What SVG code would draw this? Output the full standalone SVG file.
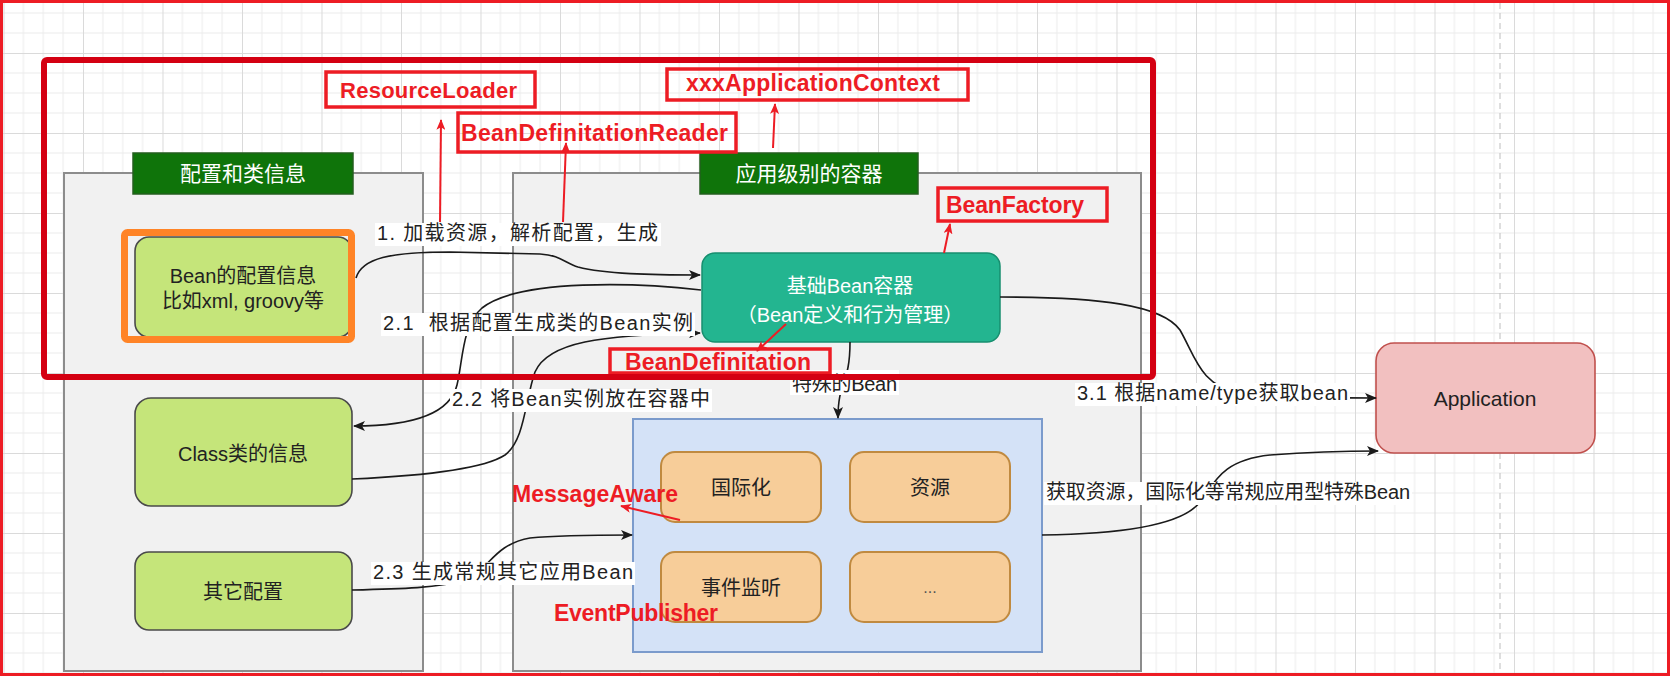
<svg xmlns="http://www.w3.org/2000/svg" width="1670" height="676" viewBox="0 0 1670 676">
<style>
.t{font-family:"Liberation Sans","Noto Sans CJK SC",sans-serif;fill:#222;}
.w{font-family:"Liberation Sans","Noto Sans CJK SC",sans-serif;fill:#fff;}
.r{font-family:"Liberation Sans","Noto Sans CJK SC",sans-serif;fill:#ed1c24;font-weight:bold;}
.cont{fill:#f1f1f1;stroke:#8c8c8c;stroke-width:2;}
.hdr{fill:#0f740a;stroke:#245f1f;stroke-width:1.5;}
.gn{fill:#c5e57a;stroke:#4a4a4a;stroke-width:1.6;}
.on{fill:#f7cd99;stroke:#c08a40;stroke-width:2;}
.rbox{fill:none;stroke:#ed1c24;stroke-width:3.5;}
.edge{fill:none;stroke:#1a1a1a;stroke-width:1.6;}
.redge{fill:none;stroke:#ed1c24;stroke-width:2;}
.lbg{fill:#ffffff;}
</style>
<defs>
<pattern id="grid" width="79.5" height="80" patternUnits="userSpaceOnUse" x="3.5" y="-27">
<path d="M19.875,0V80M39.75,0V80M59.625,0V80M0,20H79.5M0,40H79.5M0,60H79.5" stroke="#ececec" stroke-width="1" fill="none"/>
<path d="M0.5,0V80M0,0.5H79.5" stroke="#dadada" stroke-width="1" fill="none"/>
</pattern>
<marker id="ah" viewBox="0 0 12 10" refX="11" refY="5" markerWidth="12" markerHeight="10" markerUnits="userSpaceOnUse" orient="auto">
<path d="M0,0 L12,5 L0,10 L3,5 z" fill="#1a1a1a"/>
</marker>
<marker id="rah" viewBox="0 0 12 10" refX="11" refY="5" markerWidth="11" markerHeight="9" markerUnits="userSpaceOnUse" orient="auto">
<path d="M0,0 L12,5 L0,10 L3,5 z" fill="#ed1c24"/>
</marker>
</defs>

<rect x="0" y="0" width="1670" height="676" fill="#ffffff"/>
<rect x="0" y="0" width="1670" height="676" fill="url(#grid)"/>
<line x1="1500" y1="3" x2="1500" y2="673" stroke="#bdbdbd" stroke-width="1" stroke-dasharray="6 4"/>

<g id="container-config">
<rect class="cont" x="64" y="173" width="359" height="498"/>
<rect class="hdr" x="133" y="153" width="220" height="41"/>
<text class="w" x="243" y="181" font-size="21" text-anchor="middle">配置和类信息</text>
</g>

<g id="container-app">
<rect class="cont" x="513" y="173" width="628" height="498"/>
<rect class="hdr" x="700" y="153" width="218" height="41"/>
<text class="w" x="809" y="181" font-size="21" text-anchor="middle">应用级别的容器</text>
</g>

<g id="node-bean-config">
<rect class="gn" x="135" y="237" width="217" height="100" rx="14"/>
<rect x="124.5" y="232.5" width="227" height="107" rx="3" fill="none" stroke="#ff8427" stroke-width="7"/>
<text class="t" x="243" y="283" font-size="20" text-anchor="middle">Bean的配置信息</text>
<text class="t" x="243" y="308" font-size="20" text-anchor="middle">比如xml, groovy等</text>
</g>

<g id="node-class">
<rect class="gn" x="135" y="398" width="217" height="108" rx="16"/>
<text class="t" x="243" y="461" font-size="20" text-anchor="middle">Class类的信息</text>
</g>

<g id="node-other">
<rect class="gn" x="135" y="552" width="217" height="78" rx="14"/>
<text class="t" x="243" y="599" font-size="20" text-anchor="middle">其它配置</text>
</g>

<g id="node-bean-container">
<rect x="702" y="253" width="298" height="89" rx="13" fill="#23b590" stroke="#178f6f" stroke-width="1.5"/>
<text class="w" x="850" y="293" font-size="20" text-anchor="middle">基础Bean容器</text>
<text class="w" x="850" y="322" font-size="20" text-anchor="middle">（Bean定义和行为管理）</text>
</g>

<g id="node-special">
<rect x="633" y="419" width="409" height="233" fill="#d4e2f7" stroke="#7b9bcc" stroke-width="2"/>
</g>
<g id="node-i18n">
<rect class="on" x="661" y="452" width="160" height="70" rx="14"/>
<text class="t" x="741" y="495" font-size="20" text-anchor="middle">国际化</text>
</g>
<g id="node-resource">
<rect class="on" x="850" y="452" width="160" height="70" rx="14"/>
<text class="t" x="930" y="495" font-size="20" text-anchor="middle">资源</text>
</g>
<g id="node-event">
<rect class="on" x="661" y="552" width="160" height="70" rx="14"/>
<text class="t" x="741" y="595" font-size="20" text-anchor="middle">事件监听</text>
</g>
<g id="node-more">
<rect class="on" x="850" y="552" width="160" height="70" rx="14"/>
<text x="930" y="593" font-size="16" text-anchor="middle" font-family="Liberation Sans, sans-serif" fill="#555">...</text>
</g>

<g id="node-application">
<rect x="1376" y="343" width="219" height="110" rx="18" fill="#f2c0c0" stroke="#c0504d" stroke-width="1.6"/>
<text class="t" x="1485" y="406" font-size="21" text-anchor="middle">Application</text>
</g>

<g id="connectors">
<path class="edge" d="M356,278 C362,258 390,252 450,252 L540,254 C560,255 565,263 578,267 C605,274 650,275 700,275" marker-end="url(#ah)"/>
<path class="edge" d="M701,290 C640,283 520,278 482,308 C462,325 463,360 457,385 C451,410 420,426 354,426" marker-end="url(#ah)"/>
<path class="edge" d="M352,479 C420,476 482,470 505,455 C525,440 525,400 535,372 C548,342 600,335 700,333" marker-end="url(#ah)"/>
<path class="edge" d="M352,590 C400,589 440,588 465,580 C490,570 492,545 530,538 C560,535 600,535 632,535" marker-end="url(#ah)"/>
<path class="edge" d="M850,342 C850,385 838,380 838,418" marker-end="url(#ah)"/>
<path class="edge" d="M1000,297 C1100,297 1162,305 1180,330 C1196,358 1200,385 1240,394 C1290,398 1340,398 1376,398" marker-end="url(#ah)"/>
<path class="edge" d="M1042,535 C1120,534 1182,526 1200,502 C1215,482 1222,460 1270,455 C1310,452 1340,451 1378,451" marker-end="url(#ah)"/>

<rect class="lbg" x="375" y="223" width="286" height="23"/>
<text class="t" x="377" y="240" font-size="20" textLength="281" lengthAdjust="spacing">1. 加载资源，解析配置，生成</text>
<rect class="lbg" x="381" y="313" width="314" height="23"/>
<text class="t" x="383" y="330" font-size="20" textLength="310" lengthAdjust="spacing" style="white-space:pre">2.1  根据配置生成类的Bean实例</text>
<rect class="lbg" x="450" y="389" width="262" height="23"/>
<text class="t" x="452" y="406" font-size="20" textLength="258" lengthAdjust="spacing">2.2 将Bean实例放在容器中</text>
<rect class="lbg" x="371" y="562" width="264" height="23"/>
<text class="t" x="373" y="579" font-size="20" textLength="260" lengthAdjust="spacing">2.3 生成常规其它应用Bean</text>
<rect class="lbg" x="790" y="370" width="109" height="25"/>
<text class="t" x="792" y="391" font-size="20" textLength="105" lengthAdjust="spacing">特殊的Bean</text>
<rect class="lbg" x="1075" y="383" width="275" height="23"/>
<text class="t" x="1077" y="400" font-size="20" textLength="271" lengthAdjust="spacing">3.1 根据name/type获取bean</text>
<rect class="lbg" x="1044" y="482" width="368" height="23"/>
<text class="t" x="1046" y="499" font-size="20" textLength="364" lengthAdjust="spacing">获取资源，国际化等常规应用型特殊Bean</text>

<path class="redge" d="M440,222 L441,120" marker-end="url(#rah)"/>
<path class="redge" d="M563,222 L566,143" marker-end="url(#rah)"/>
<path class="redge" d="M773,148 L775,104" marker-end="url(#rah)"/>
<path class="redge" d="M944,253 L950,224" marker-end="url(#rah)"/>
<path class="redge" d="M786,324 L757,351" marker-end="url(#rah)"/>
<path class="redge" d="M680,520 L621,506" marker-end="url(#rah)"/>
</g>

<g id="label-resourceloader">
<rect class="rbox" x="326" y="72" width="209" height="35"/>
<text class="r" x="340" y="98" font-size="22" textLength="177" lengthAdjust="spacing">ResourceLoader</text>
</g>
<g id="label-reader">
<rect class="rbox" x="458" y="113" width="278" height="39"/>
<text class="r" x="461" y="141" font-size="23" textLength="267" lengthAdjust="spacing">BeanDefinitationReader</text>
</g>
<g id="label-appcontext">
<rect class="rbox" x="667" y="69" width="301" height="31"/>
<text class="r" x="686" y="91" font-size="23" textLength="254" lengthAdjust="spacing">xxxApplicationContext</text>
</g>
<g id="label-beanfactory">
<rect class="rbox" x="938" y="188" width="169" height="33"/>
<text class="r" x="946" y="213" font-size="23" textLength="138" lengthAdjust="spacing">BeanFactory</text>
</g>
<g id="label-beandefinitation">
<rect class="rbox" x="610" y="349" width="220" height="24"/>
<text class="r" x="625" y="370" font-size="23" textLength="186" lengthAdjust="spacing">BeanDefinitation</text>
</g>
<g id="label-messageaware">
<text class="r" x="512" y="502" font-size="23" textLength="166" lengthAdjust="spacing">MessageAware</text>
</g>
<g id="label-eventpublisher">
<text class="r" x="554" y="621" font-size="23" textLength="164" lengthAdjust="spacing">EventPublisher</text>
</g>

<g id="highlight-frame">
<rect x="44" y="60" width="1109" height="317" rx="3" fill="none" stroke="#d40012" stroke-width="6"/>
</g>
<rect x="1.5" y="1.5" width="1667" height="673" fill="none" stroke="#ed1c24" stroke-width="3"/>
</svg>
